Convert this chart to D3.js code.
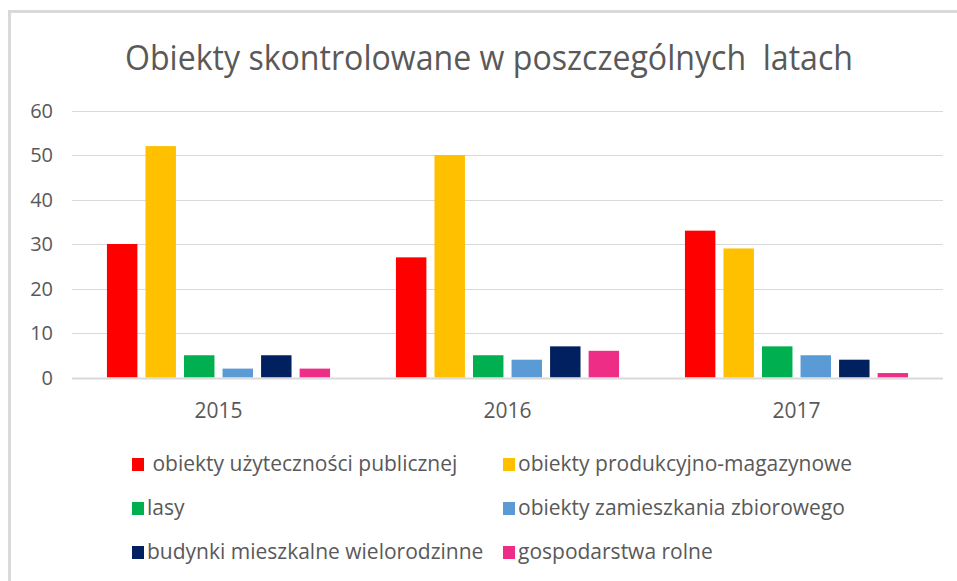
<!DOCTYPE html>
<html>
<head>
<meta charset="utf-8">
<script src="https://cdn.jsdelivr.net/npm/d3@7"></script>
<style>
  body { margin: 0; background: #fff; }
  text { font-family: "Open Sans", sans-serif; fill: #595959; white-space: pre; }
</style>
</head>
<body>
<svg width="957" height="581"></svg>
<script>
var years = ["2015", "2016", "2017"];
var series = [
  " obiekty użyteczności publicznej",
  "obiekty produkcyjno-magazynowe",
  "lasy",
  "obiekty zamieszkania zbiorowego",
  "budynki mieszkalne wielorodzinne",
  "gospodarstwa rolne"
];
var colors = ["#FF0000", "#FFC000", "#00B050", "#5B9BD5", "#002060", "#EE2D87"];
// values[s][y] : series s in year y
var values = [
  [30, 27, 33],
  [52, 50, 29],
  [5, 5, 7],
  [2, 4, 5],
  [5, 7, 4],
  [2, 6, 1]
];
var yTicks = [0, 10, 20, 30, 40, 50, 60];

var svg = d3.select("svg");

// chart frame (extends past the picture on the right and bottom)
svg.append("rect")
    .attr("x", 9.5)
    .attr("y", 11.5)
    .attr("width", 960)
    .attr("height", 600)
    .attr("fill", "none")
    .attr("stroke", "#d9d9d9")
    .attr("stroke-width", 3);

svg.append("text")
    .attr("x", 489)
    .attr("y", 70)
    .attr("text-anchor", "middle")
    .attr("textLength", 728)
    .attr("lengthAdjust", "spacingAndGlyphs")
    .style("font-size", "35px")
    .text("Obiekty skontrolowane w poszczególnych  latach");

var gridLeft = 72, gridRight = 943;

var y = d3.scaleLinear().domain([0, 60]).range([377.5, 110.5]);
var x0 = d3.scaleBand().domain(years).range([74, 941]);
var x1 = d3.scaleBand().domain(d3.range(series.length))
    .range([0, x0.bandwidth()])
    .paddingInner(0.21)
    .paddingOuter(0.855);

// gridlines
svg.append("g").selectAll("line")
    .data(yTicks.filter(function(d) { return d > 0; }))
    .enter().append("line")
    .attr("x1", gridLeft)
    .attr("x2", gridRight)
    .attr("y1", function(d) { return Math.round(y(d)) + 0.5; })
    .attr("y2", function(d) { return Math.round(y(d)) + 0.5; })
    .attr("stroke", "#d9d9d9")
    .attr("stroke-width", 1);

// y tick labels
svg.append("g").selectAll("text")
    .data(yTicks)
    .enter().append("text")
    .attr("x", 53)
    .attr("y", function(d) { return y(d); })
    .attr("dy", "0.36em")
    .attr("text-anchor", "end")
    .style("font-size", "20px")
    .text(function(d) { return d; });

// bars
var groups = svg.append("g").selectAll("g")
    .data(years)
    .enter().append("g")
    .attr("transform", function(d) { return "translate(" + x0(d) + ",0)"; });

groups.selectAll("rect")
    .data(function(d, i) {
      return values.map(function(v, s) { return {s: s, v: v[i]}; });
    })
    .enter().append("rect")
    .attr("x", function(d) { return x1(d.s); })
    .attr("y", function(d) { return y(d.v); })
    .attr("width", x1.bandwidth())
    .attr("height", function(d) { return y(0) - y(d.v); })
    .attr("fill", function(d) { return colors[d.s]; });

// baseline
svg.append("line")
    .attr("x1", gridLeft)
    .attr("x2", gridRight)
    .attr("y1", y(0) + 1)
    .attr("y2", y(0) + 1)
    .attr("stroke", "#d9d9d9")
    .attr("stroke-width", 2);

// x labels
svg.append("g").selectAll("text")
    .data(years)
    .enter().append("text")
    .attr("x", function(d) { return x0(d) + x0.bandwidth() / 2; })
    .attr("y", 418)
    .attr("text-anchor", "middle")
    .style("font-size", "21px")
    .text(function(d) { return d; });

// legend
var legend = svg.append("g");
series.forEach(function(name, i) {
  var col = i % 2, row = Math.floor(i / 2);
  var lx = col === 0 ? 132 : 503;
  var ly = 471 + row * 44;
  legend.append("rect")
      .attr("x", lx)
      .attr("y", ly - 13)
      .attr("width", 12)
      .attr("height", 13)
      .attr("fill", colors[i]);
  legend.append("text")
      .attr("x", lx + 15)
      .attr("y", ly)
      .style("font-size", "21px")
      .text(name);
});
</script>
</body>
</html>
